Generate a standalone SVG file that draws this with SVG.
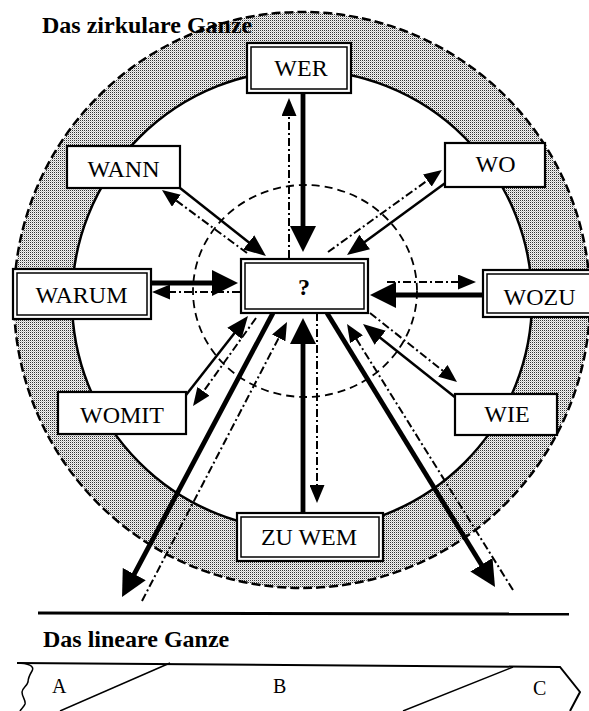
<svg xmlns="http://www.w3.org/2000/svg" width="589" height="711" viewBox="0 0 589 711">
<style>
.lbl{font-family:"Liberation Serif","Times New Roman",serif;font-size:24px;fill:#000;text-anchor:middle}
.ttl{font-family:"Liberation Serif","Times New Roman",serif;font-size:24px;font-weight:bold;fill:#000}
.sm{font-family:"Liberation Serif","Times New Roman",serif;font-size:20px;fill:#000}
.box{fill:#fff;stroke:#000;stroke-width:2.2}
.inner{fill:none;stroke:#000;stroke-width:1.5}
.thick{stroke:#000;stroke-width:4.8;fill:none}
.thin{stroke:#000;stroke-width:2.5;fill:none}
.dd{stroke:#000;stroke-width:2;fill:none;stroke-dasharray:8 3 2 3}
</style>
<defs>
<pattern id="dots" width="2" height="2" patternUnits="userSpaceOnUse">
<rect width="2" height="2" fill="#f4f4f4"/>
<rect x="0" y="0" width="1" height="1" fill="#333"/>
<rect x="1" y="1" width="1" height="1" fill="#c4c4c4"/>
</pattern>
<marker id="big" markerUnits="userSpaceOnUse" markerWidth="26" markerHeight="26" refX="8" refY="13" orient="auto"><path d="M0,0 L26,13 L0,26 z" fill="#000"/></marker>
<marker id="med" markerUnits="userSpaceOnUse" markerWidth="22" markerHeight="18" refX="6" refY="9" orient="auto"><path d="M0,0 L22,9 L0,18 z" fill="#000"/></marker>
<marker id="sml" markerUnits="userSpaceOnUse" markerWidth="18" markerHeight="15" refX="5" refY="7.5" orient="auto"><path d="M0,0 L18,7.5 L0,15 z" fill="#000"/></marker>
</defs>

<g id="ring">
<circle cx="302" cy="300" r="288" fill="url(#dots)" stroke="#000" stroke-width="2.5" stroke-dasharray="9 4"/>
<circle cx="302" cy="300" r="230" fill="#fff" stroke="#000" stroke-width="2.5"/>
<ellipse cx="305" cy="291" rx="112" ry="106" fill="none" stroke="#000" stroke-width="1.8" stroke-dasharray="8 5"/>
</g>

<text class="ttl" x="42" y="33">Das zirkulare Ganze</text>

<g id="connectors">
<line class="thick" x1="303" y1="93" x2="303" y2="234" marker-end="url(#big)"/>
<line class="dd" x1="289" y1="258" x2="289" y2="111" marker-end="url(#sml)"/>
<line class="thin" x1="180" y1="188" x2="253.4" y2="246.1" marker-end="url(#med)"/>
<line class="dd" x1="247" y1="253" x2="172.4" y2="197.7" marker-end="url(#sml)"/>
<line class="thin" x1="448" y1="181" x2="359.9" y2="245.5" marker-end="url(#med)"/>
<line class="dd" x1="328" y1="252" x2="431.4" y2="177.6" marker-end="url(#sml)"/>
<line class="thick" x1="145" y1="283" x2="220" y2="283" marker-end="url(#big)"/>
<line class="dd" x1="240" y1="292" x2="165" y2="292" marker-end="url(#sml)"/>
<line class="thick" x1="483" y1="295" x2="388" y2="295" marker-end="url(#big)"/>
<line class="dd" x1="387" y1="282" x2="463" y2="282" marker-end="url(#sml)"/>
<line class="thin" x1="186" y1="395" x2="238.1" y2="328.6" marker-end="url(#med)"/>
<line class="dd" x1="256" y1="318" x2="200.6" y2="395.4" marker-end="url(#sml)"/>
<line class="thin" x1="456" y1="398" x2="375.5" y2="334" marker-end="url(#med)"/>
<line class="dd" x1="370" y1="313" x2="446.8" y2="373.9" marker-end="url(#sml)"/>
<line class="thick" x1="303" y1="513" x2="303" y2="336" marker-end="url(#big)"/>
<line class="dd" x1="317" y1="313" x2="317" y2="490" marker-end="url(#sml)"/>
<line class="thick" x1="273" y1="313" x2="130.5" y2="581.1" marker-end="url(#big)"/>
<line class="dd" x1="142" y1="601" x2="281" y2="333.5" marker-end="url(#sml)"/>
<line class="thick" x1="327" y1="313" x2="485.6" y2="571.6" marker-end="url(#big)"/>
<line class="dd" x1="513" y1="590" x2="353.9" y2="335" marker-end="url(#sml)"/>
</g>

<g id="center">
<rect class="box" x="241" y="259" width="127" height="54"/>
<rect class="inner" x="245" y="263" width="119" height="46"/>
<text class="lbl" x="304" y="295" font-weight="bold">?</text>
</g>
<g id="wer">
<rect class="box" x="247" y="43" width="104" height="50"/>
<rect class="inner" x="251" y="47" width="96" height="42"/>
<text class="lbl" x="301" y="76">WER</text>
</g>
<g id="wann">
<rect class="box" x="67" y="146" width="113" height="42"/>
<text class="lbl" x="123.5" y="177">WANN</text>
</g>
<g id="wo">
<rect class="box" x="445" y="143" width="100" height="44"/>
<text class="lbl" x="495.5" y="172">WO</text>
</g>
<g id="warum">
<rect class="box" x="13" y="269" width="138" height="50"/>
<rect class="inner" x="17" y="273" width="130" height="42"/>
<text class="lbl" x="81.5" y="303">WARUM</text>
</g>
<g id="wozu">
<rect class="box" x="483" y="270" width="112" height="47"/>
<rect class="inner" x="487" y="274" width="108" height="39"/>
<text class="lbl" x="539.5" y="305">WOZU</text>
</g>
<g id="womit">
<rect class="box" x="58" y="392" width="128" height="42"/>
<text class="lbl" x="122" y="423">WOMIT</text>
</g>
<g id="wie">
<rect class="box" x="455" y="394" width="102" height="41"/>
<text class="lbl" x="507" y="422">WIE</text>
</g>
<g id="zuwem">
<rect class="box" x="237" y="513" width="146" height="48"/>
<rect class="inner" x="241" y="517" width="138" height="40"/>
<text class="lbl" x="309" y="545">ZU WEM</text>
</g>

<line x1="38" y1="613" x2="569" y2="614" stroke="#000" stroke-width="3"/>
<text class="ttl" x="43" y="647">Das lineare Ganze</text>

<g id="linear">
<path d="M17,663 L560,667 L580,692 L570,711" fill="none" stroke="#000" stroke-width="2"/>
<path d="M17,663 C28,663 35,666 32,671 C29,676 28,679 28,682 C27,686 22,688 22,692 C22,697 26,700 25,704 C24,707 21,709 20,711" fill="none" stroke="#000" stroke-width="1.5"/>
<line x1="170" y1="663" x2="60" y2="711" stroke="#000" stroke-width="1.5"/>
<line x1="513" y1="667" x2="403" y2="711" stroke="#000" stroke-width="1.5"/>
<text class="sm" x="52" y="693">A</text>
<text class="sm" x="273" y="693">B</text>
<text class="sm" x="533" y="695">C</text>
</g>
</svg>
